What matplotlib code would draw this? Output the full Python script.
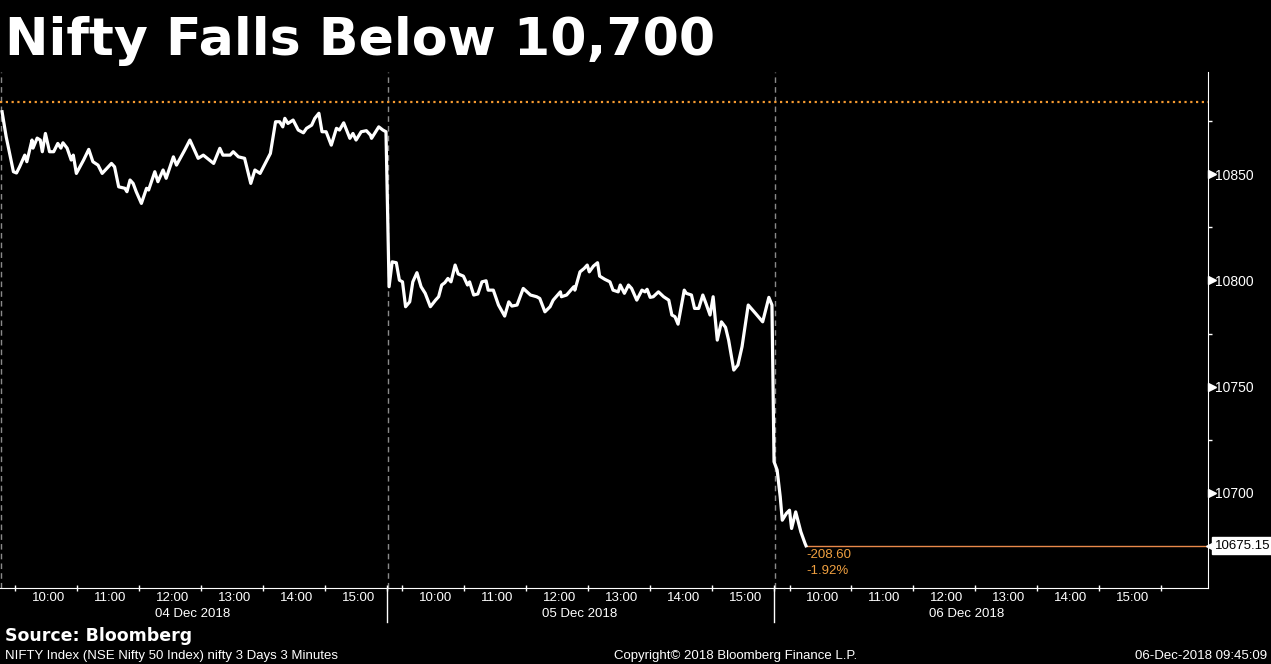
import matplotlib.pyplot as plt
from matplotlib.transforms import blended_transform_factory

# データ: 3分足 (9:15からの経過分, 終値)
day1_min = [2, 6, 13, 16, 19, 24, 26, 31, 32, 36, 39, 41, 44, 48, 52, 56, 59, 61, 65, 69,
            71, 74, 81, 86, 90, 95, 99, 108, 111, 115, 121, 123, 126, 129, 132, 137, 142, 144, 150, 153,
            158, 161, 168, 171, 179, 184, 192, 197, 207, 213, 216, 223, 226, 231, 237, 243, 247, 252, 262, 267,
            271, 274, 276, 279, 284, 289, 294, 297, 302, 305, 309, 312, 316, 321, 326, 329, 333, 339, 342, 345,
            350, 355, 359, 360, 367, 371, 374]
day1_close = [10879.3, 10867.5, 10851.1, 10850.5, 10853.4, 10858.9, 10855.8, 10866.0, 10862.2, 10866.9,
              10866.0, 10860.5, 10869.1, 10860.5, 10860.5, 10864.4, 10862.2, 10864.7, 10862.2, 10856.6,
              10858.9, 10850.3, 10856.6, 10861.6, 10855.8, 10854.2, 10850.3, 10855.0, 10853.4, 10844.0,
              10843.3, 10841.7, 10847.2, 10845.6, 10841.7, 10836.2, 10843.3, 10842.5, 10851.1, 10846.4,
              10851.9, 10848.0, 10858.1, 10854.2, 10861.3, 10866.0, 10857.4, 10858.9, 10855.0, 10862.1,
              10858.9, 10858.9, 10860.5, 10858.1, 10857.4, 10845.6, 10851.9, 10850.3, 10859.7, 10874.6,
              10874.6, 10872.2, 10876.2, 10873.8, 10875.4, 10870.7, 10869.4, 10871.5, 10873.0, 10876.2,
              10878.6, 10869.9, 10869.9, 10863.6, 10871.5, 10870.7, 10874.1, 10866.8, 10869.1, 10866.0,
              10869.9, 10870.4, 10868.3, 10866.8, 10872.2, 10870.7, 10869.9]

day2_min = [2, 5, 9, 12, 15, 18, 22, 25, 29, 33, 37, 42, 47, 50, 53, 56, 59, 62, 66, 69,
            74, 78, 80, 84, 88, 92, 96, 98, 103, 108, 114, 118, 121, 126, 132, 139, 145, 148, 153, 158,
            161, 168, 169, 174, 181, 182, 187, 191, 194, 196, 200, 204, 206, 211, 216, 219, 224, 226, 230, 234,
            237, 242, 247, 250, 252, 255, 258, 263, 268, 273, 276, 279, 282, 288, 290, 295, 298, 302, 306, 309,
            313, 316, 320, 324, 328, 331, 336, 340, 344, 350, 357, 364, 370, 373]
day2_close = [10797.0, 10808.7, 10808.3, 10800.1, 10799.3, 10787.6, 10789.9, 10799.3, 10803.6, 10797.0,
              10793.9, 10787.6, 10790.7, 10792.3, 10797.8, 10798.9, 10800.9, 10799.3, 10807.2, 10803.0,
              10802.0, 10797.8, 10799.3, 10793.1, 10793.6, 10799.3, 10799.8, 10795.4, 10795.4, 10788.4,
              10783.2, 10789.9, 10787.9, 10788.4, 10796.2, 10793.1, 10792.3, 10791.5, 10785.2, 10787.6,
              10790.7, 10794.6, 10792.3, 10793.1, 10797.0, 10795.4, 10804.0, 10805.6, 10807.2, 10804.0,
              10806.7, 10808.3, 10802.0, 10800.5, 10799.3, 10795.4, 10794.6, 10797.8, 10793.9, 10797.8,
              10796.2, 10790.7, 10795.4, 10794.6, 10795.8, 10792.0, 10792.3, 10794.6, 10792.3, 10790.7,
              10783.7, 10782.9, 10779.4, 10795.4, 10793.9, 10793.1, 10786.8, 10786.8, 10793.1, 10789.2,
              10783.7, 10792.3, 10771.9, 10780.5, 10777.9, 10771.9, 10757.8, 10760.2, 10768.8, 10788.4,
              10784.5, 10780.5, 10792.0, 10788.4]

day3_min = [0, 3, 6, 8, 12, 15, 17, 21, 26, 30]
day3_close = [10714.7, 10710.8, 10698.2, 10687.2, 10690.4, 10691.9, 10683.3, 10691.1, 10681.7, 10676.3]

days = ['04 Dec 2018', '05 Dec 2018', '06 Dec 2018']
hour_labels = ['10:00', '11:00', '12:00', '13:00', '14:00', '15:00']
y_ticks = [10700, 10750, 10800, 10850]
prev_close = 10883.75
last_price = 10675.15
change_txt = '-208.60'
change_pct = '-1.92%'

SESSION = 375  # 9:15 - 15:30

xs = ([m for m in day1_min] + [SESSION + m for m in day2_min]
      + [2 * SESSION + m for m in day3_min] + [2 * SESSION + 31])
ys = day1_close + day2_close + day3_close + [last_price]

W, H = 1271, 664
fig = plt.figure(figsize=(W / 100, H / 100), dpi=100, facecolor='black')
ax = fig.add_axes([0, 1 - 588 / H, 1208 / W, (588 - 72) / H])
ax.set_facecolor('black')

ax.set_xlim(0, 1170.5)
ax.set_ylim(10655.3, 10898.0)

# 日付の区切り (破線)
for d in range(3):
    ax.axvline(d * SESSION + 0.8, color='#8a8a8a', lw=1, ls=(0, (4, 3)), zorder=1)

ax.axhline(prev_close, color='#f59a30', lw=1.6, ls=(0, (1, 1.6)), zorder=2)
ax.hlines(last_price, xs[-1], 1170.5, color='#e8894a', lw=1, zorder=2)
ax.plot(xs, ys, color='white', lw=2.3, solid_joinstyle='round', zorder=3)

ax.annotate(change_txt, (xs[-1], last_price), xytext=(0, -6.5), textcoords='offset points',
            color='#f0a040', fontsize=9.5, family='Liberation Sans', va='center', ha='left')
ax.annotate(change_pct, (xs[-1], last_price), xytext=(0, -18.5), textcoords='offset points',
            color='#f0a040', fontsize=9.5, family='Liberation Sans', va='center', ha='left')

# 軸
for s in ['top', 'left']:
    ax.spines[s].set_visible(False)
ax.spines['right'].set_color('white')
ax.spines['bottom'].set_color('white')
ax.yaxis.tick_right()

ax.set_yticks(y_ticks)
ax.set_yticks([10675, 10725, 10775, 10825, 10875], minor=True)
ax.tick_params(axis='y', which='major', colors='white', length=0, pad=5, labelsize=10)
ax.tick_params(axis='y', which='minor', colors='white', length=3, width=1)
for lab in ax.get_yticklabels():
    lab.set_family('Liberation Sans')

ytr = blended_transform_factory(ax.transAxes, ax.transData)
ax.plot([1.003] * len(y_ticks), y_ticks, marker='>', ms=5.5, color='white', ls='none',
        transform=ytr, clip_on=False)

# x軸: 30分刻みの目盛り, 時刻ラベル, 日付
minor_x = [d * SESSION + m for d in range(3) for m in range(15, 376, 60)]
ax.set_xticks(minor_x)
ax.set_xticklabels([])
ax.tick_params(axis='x', colors='white', length=5, direction='inout', width=1)

xtr = ax.get_xaxis_transform()
for d in range(3):
    for i, lab in enumerate(hour_labels):
        ax.text(d * SESSION + 45 + 60 * i + 2, -10 / 516, lab, transform=xtr, color='white',
                fontsize=9.5, family='Liberation Sans', ha='center', va='center')
    ax.text(d * SESSION + 187, -26 / 516, days[d], transform=xtr, color='white',
            fontsize=9.5, family='Liberation Sans', ha='center', va='center')
for d in (1, 2):
    ax.plot([d * SESSION, d * SESSION], [0, -34 / 516], transform=xtr, color='white',
            lw=1, clip_on=False)

# 最終値ラベル
ax.text(1.0055, last_price, '10675.15', transform=ytr, color='black', fontsize=9.5,
        family='Liberation Sans', ha='left', va='center',
        bbox=dict(boxstyle='square,pad=0.2', fc='white', ec='white'))
ax.plot([1.003], [last_price], marker='<', ms=8, color='white', transform=ytr, clip_on=False)

# タイトル・出典
fig.text(5 / W, 1 - 55 / H, 'Nifty Falls Below 10,700', color='white', fontsize=37.5,
         fontweight='bold', family='DejaVu Sans', va='baseline', ha='left')
fig.text(5 / W, 1 - 641 / H, 'Source: Bloomberg', color='white', fontsize=12.5,
         fontweight='bold', family='DejaVu Sans', va='baseline', ha='left')
fig.text(5 / W, 1 - 656 / H, 'NIFTY Index (NSE Nifty 50 Index) nifty 3 Days 3 Minutes',
         color='white', fontsize=9.5, family='Liberation Sans', va='center', ha='left')
fig.text(736 / W, 1 - 656 / H, 'Copyright\u00a9 2018 Bloomberg Finance L.P.',
         color='white', fontsize=9.5, family='Liberation Sans', va='center', ha='center')
fig.text(1267 / W, 1 - 656 / H, '06-Dec-2018 09:45:09',
         color='white', fontsize=9.5, family='Liberation Sans', va='center', ha='right')

fig.savefig('out.png', dpi=100, facecolor='black')
